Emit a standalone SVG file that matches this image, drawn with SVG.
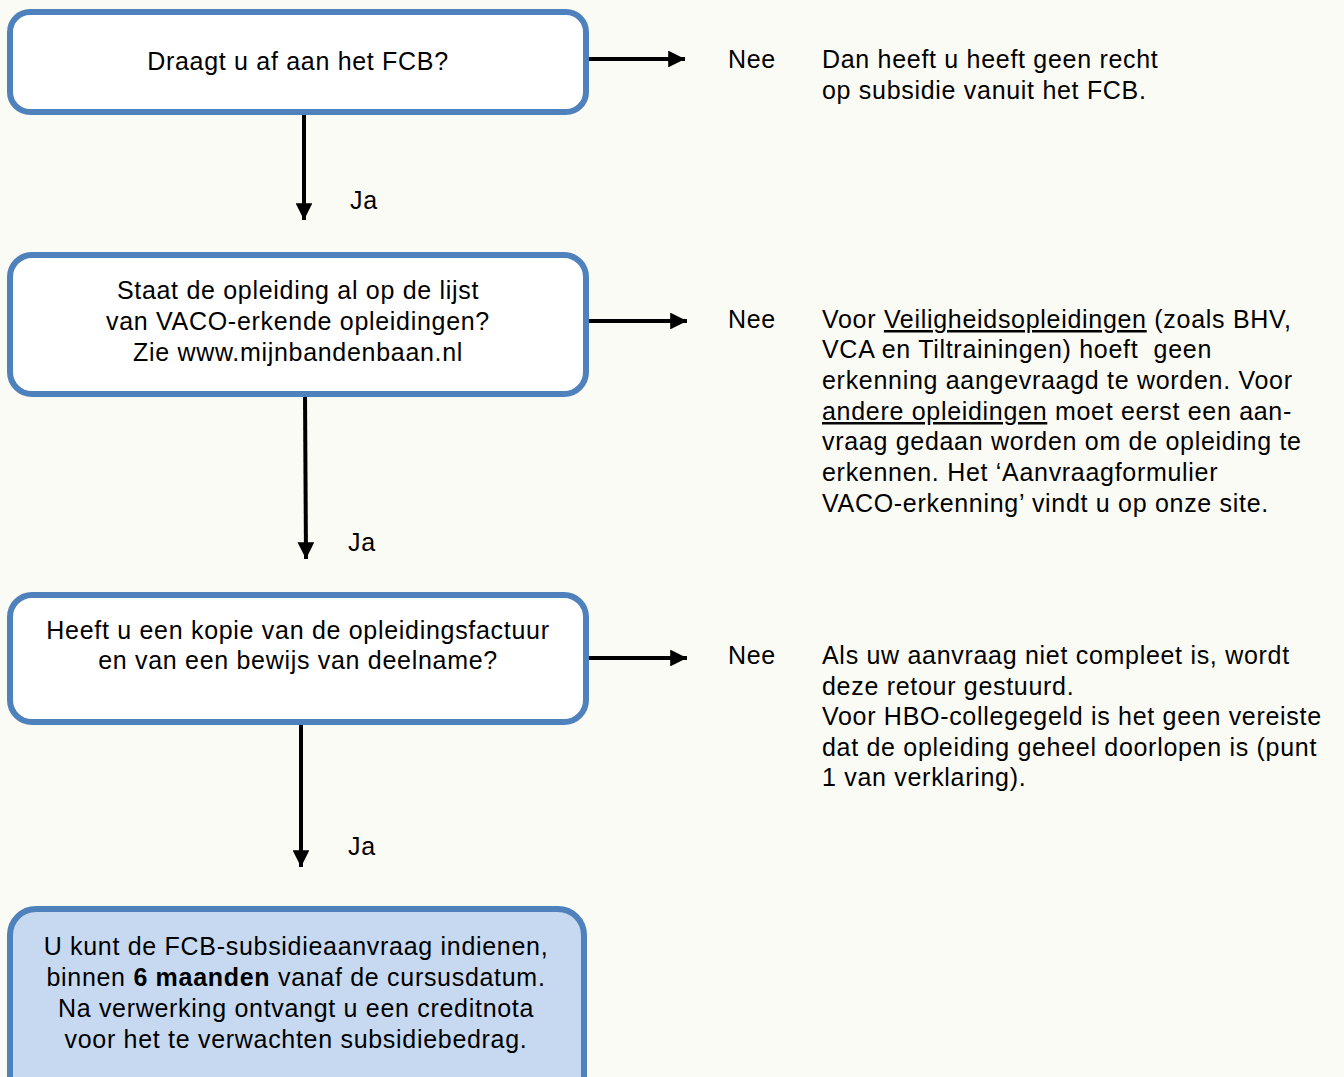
<svg xmlns="http://www.w3.org/2000/svg" width="1344" height="1077" viewBox="0 0 1344 1077">
<style>
.box{fill:#ffffff;stroke:#4f81bd;stroke-width:6}
.end{fill:#c6d9f1;stroke:#4f81bd;stroke-width:6}
text{font-family:"Liberation Sans",Arial,sans-serif;font-size:25px;letter-spacing:0.7px;fill:#000}
.c{text-anchor:middle}
.conn line{stroke:#000;stroke-width:4}
.u{text-decoration:underline}
</style>
<defs>
<marker id="ah" markerWidth="4.2" markerHeight="4.2" refX="4.2" refY="2.1" orient="auto" markerUnits="strokeWidth">
<path d="M0,0 L4.2,2.1 L0,4.2 Z" fill="#000"/>
</marker>
</defs>
<rect width="1344" height="1077" fill="#fbfbf5"/>
<g id="conn" class="conn">
<line x1="304" y1="112" x2="304" y2="220" marker-end="url(#ah)"/>
<line x1="587" y1="59" x2="685" y2="59" marker-end="url(#ah)"/>
<line x1="305" y1="394" x2="306" y2="559" marker-end="url(#ah)"/>
<line x1="587" y1="321" x2="687" y2="321" marker-end="url(#ah)"/>
<line x1="301" y1="722" x2="301" y2="867" marker-end="url(#ah)"/>
<line x1="587" y1="658" x2="687" y2="658" marker-end="url(#ah)"/>
</g>
<g id="n1">
<rect class="box" x="10" y="12" width="576" height="100" rx="20"/>
<text class="c" x="298" y="70">Draagt u af aan het FCB?</text>
</g>
<g id="n2">
<rect class="box" x="10" y="255" width="576" height="139" rx="22"/>
<text class="c" x="298" y="299">Staat de opleiding al op de lijst</text>
<text class="c" x="298" y="330">van VACO-erkende opleidingen?</text>
<text class="c" x="298" y="361">Zie www.mijnbandenbaan.nl</text>
</g>
<g id="n3">
<rect class="box" x="10" y="595" width="576" height="127" rx="22"/>
<text class="c" x="298" y="639">Heeft u een kopie van de opleidingsfactuur</text>
<text class="c" x="298" y="669">en van een bewijs van deelname?</text>
</g>
<g id="n4">
<rect class="end" x="10" y="909" width="574" height="200" rx="26"/>
<text class="c" x="296" y="955">U kunt de FCB-subsidieaanvraag indienen,</text>
<text class="c" x="296" y="986">binnen <tspan font-weight="bold">6 maanden</tspan> vanaf de cursusdatum.</text>
<text class="c" x="296" y="1017">Na verwerking ontvangt u een creditnota</text>
<text class="c" x="296" y="1048">voor het te verwachten subsidiebedrag.</text>
</g>
<g id="labels">
<text x="350" y="209">Ja</text>
<text x="348" y="551">Ja</text>
<text x="348" y="855">Ja</text>
<text x="728" y="68">Nee</text>
<text x="728" y="328">Nee</text>
<text x="728" y="664">Nee</text>
</g>
<g id="r1">
<text x="822" y="68">Dan heeft u heeft geen recht</text>
<text x="822" y="99">op subsidie vanuit het FCB.</text>
</g>
<g id="r2">
<text x="822" y="328">Voor <tspan class="u">Veiligheidsopleidingen</tspan> (zoals BHV,</text>
<text x="822" y="358" xml:space="preserve">VCA en Tiltrainingen) hoeft  geen</text>
<text x="822" y="389">erkenning aangevraagd te worden. Voor</text>
<text x="822" y="420"><tspan class="u">andere opleidingen</tspan> moet eerst een aan-</text>
<text x="822" y="450">vraag gedaan worden om de opleiding te</text>
<text x="822" y="481">erkennen. Het ‘Aanvraagformulier</text>
<text x="822" y="512">VACO-erkenning’ vindt u op onze site.</text>
</g>
<g id="r3">
<text x="822" y="664">Als uw aanvraag niet compleet is, wordt</text>
<text x="822" y="695">deze retour gestuurd.</text>
<text x="822" y="725">Voor HBO-collegegeld is het geen vereiste</text>
<text x="822" y="756">dat de opleiding geheel doorlopen is (punt</text>
<text x="822" y="786">1 van verklaring).</text>
</g>
</svg>
